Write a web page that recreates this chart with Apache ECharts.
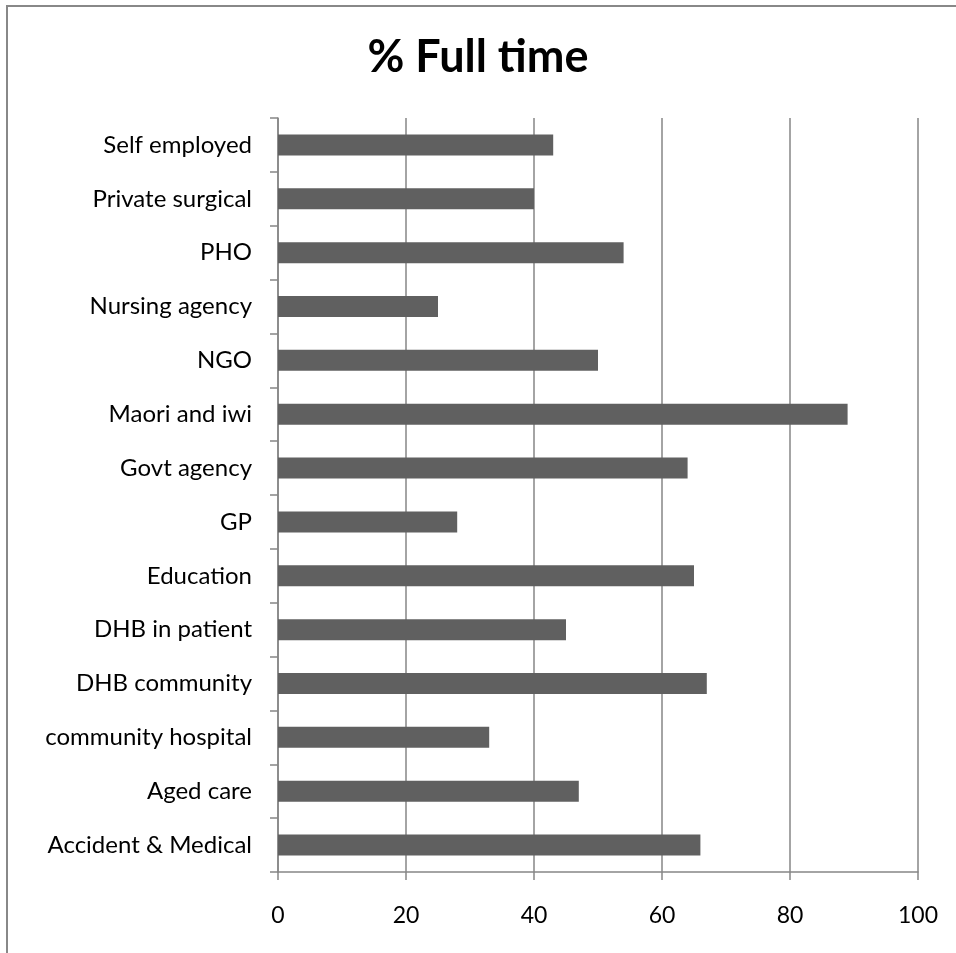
<!DOCTYPE html>
<html>
<head>
<meta charset="utf-8">
<script src="https://cdn.jsdelivr.net/npm/echarts@6/dist/echarts.min.js"></script>
<style>
  html, body { margin: 0; padding: 0; background: #fff; }
  #main { width: 956px; height: 953px; }
</style>
</head>
<body>
<div id="main"></div>
<script>
// bottom to top, as echarts draws categories
const categories = ['Accident & Medical', 'Aged care', 'community hospital', 'DHB community',
  'DHB in patient', 'Education', 'GP', 'Govt agency', 'Maori and iwi', 'NGO',
  'Nursing agency', 'PHO', 'Private surgical', 'Self employed']
const fullTime = [66, 47, 33, 67, 45, 65, 28, 64, 89, 50, 25, 54, 40, 43]
const xTicks = [0, 20, 40, 60, 80, 100]

const font = 'Lato, "Open Sans", sans-serif'
const myChart = echarts.init(document.getElementById('main'))
myChart.setOption({
  animation: false,
  textStyle: { fontFamily: font },
  title: {
    text: '% Full time',
    left: 'center',
    top: 30,
    textStyle: { fontSize: 45, fontWeight: 'bold', color: '#000', fontFamily: font }
  },
  graphic: [{
    type: 'rect',
    shape: { x: 7, y: 6, width: 960, height: 960 },
    style: { fill: 'none', stroke: '#888', lineWidth: 2 },
    silent: true
  }],
  grid: { left: 278, right: 38, top: 118, bottom: 81, containLabel: false },
  xAxis: {
    type: 'value',
    min: xTicks[0],
    max: xTicks[xTicks.length - 1],
    interval: 20,
    axisLine: { show: true, lineStyle: { color: '#868686', width: 1.5 } },
    axisTick: { show: true, length: 8, lineStyle: { color: '#868686', width: 1.5 } },
    splitLine: { show: true, lineStyle: { color: '#868686', width: 1.5 } },
    axisLabel: { color: '#000', fontSize: 23, margin: 32 }
  },
  yAxis: {
    type: 'category',
    data: categories,
    axisLine: { show: true, lineStyle: { color: '#868686', width: 1.5 } },
    axisTick: { show: true, length: 8, lineStyle: { color: '#868686', width: 1.5 } },
    axisLabel: { color: '#000', fontSize: 24, margin: 26 }
  },
  series: [{
    name: '% Full time',
    type: 'bar',
    data: fullTime,
    barWidth: '39%',
    itemStyle: { color: '#606060' }
  }]
})
</script>
</body>
</html>
